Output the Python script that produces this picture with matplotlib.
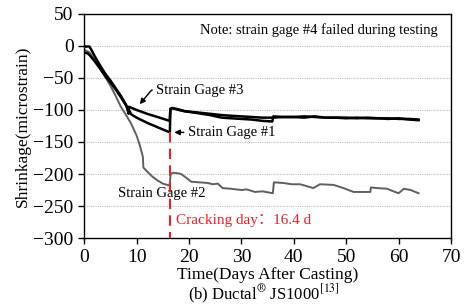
import matplotlib
matplotlib.use("Agg")
import matplotlib.pyplot as plt

# ---- data ----
x1 = [0, 0.5, 1, 2, 3, 4, 5, 6, 7, 8, 8.6, 9, 10, 12, 14, 16.35, 16.45, 16.8, 18, 19.2, 21.7, 24,
      26.2, 28, 30, 32, 34, 35.9, 36.1, 38, 40, 42, 44, 46, 48, 50, 52, 54, 56, 58, 60, 62, 63.8]
y1 = [-11, -11, -14, -24, -35, -47, -57, -68, -80, -93, -101, -107, -112, -120, -127, -135, -100, -97, -100, -102, -105, -108,
      -112, -113, -114, -115, -117, -118, -110, -111, -111, -112, -110, -112, -112, -113, -112, -113, -113, -114, -113, -115, -116]

x3 = [0, 1, 1.5, 2, 3, 4, 5, 6, 7, 8, 8.5, 8.55, 10, 12, 14, 16.3, 16.45, 16.8, 18, 19.2, 21.7, 24,
      26.2, 28, 30, 32, 34, 36, 38, 40, 42, 44, 46, 48, 50, 52, 54, 56, 58, 60, 62, 63.8]
y3 = [-1, -1, -8, -16, -30, -43, -54, -66, -78, -92, -106, -95, -100, -106, -111, -117, -98, -97, -99, -102, -104, -106,
      -108, -109, -110, -111, -112, -112, -111, -111, -110, -111, -112, -112, -112, -113, -112, -113, -113, -114, -114, -115]

x2 = [0, 1, 2, 3, 4, 5, 6, 7, 8, 9, 10, 10.5, 11.2, 11.3, 12, 13, 14, 15, 16.3, 16.5, 17, 18, 18.5, 19.5, 20.4,
      22, 23.6, 24.5, 25.5, 26.4, 28, 30, 31, 32.6, 34, 36, 36.2, 38, 39.6, 41.2, 42.5, 43.7, 45, 47.6, 49.5,
      51.4, 54.6, 54.7, 56, 57.8, 59, 60, 61, 62.3, 63.8]
y2 = [-6, -10, -22, -35, -48, -62, -78, -95, -108, -122, -140, -152, -173, -190, -196, -204, -210, -215, -218, -200, -198, -199, -200, -206, -212,
      -213, -214, -216, -215, -222, -223, -225, -224, -228, -227, -230, -213, -214, -216, -216, -219, -222, -216, -217, -222,
      -228, -228, -221, -222, -223, -227, -230, -223, -225, -230]

crack_day = 16.4
crack_y = -135
yticks = [50, 0, -50, -100, -150, -200, -250, -300]
xticks = [0, 10, 20, 30, 40, 50, 60, 70]

serif = "Liberation Serif"
plt.rcParams["font.family"] = [serif, "DejaVu Sans"]
plt.rcParams["mathtext.fontset"] = "stix"

fig = plt.figure(figsize=(4.65, 3.08), dpi=100)
ax = fig.add_axes([0.181, 0.227, 0.789, 0.728])

for g in [0, -50, -100, -150, -200, -250]:
    ax.axhline(g, color="#bdbdbd", lw=0.8, ls=(0, (1, 1)), zorder=0)

ax.plot(x2, y2, color="#5f5f5f", lw=1.4, zorder=2)
ax.plot(x1, y1, color="black", lw=1.8, zorder=3)
ax.plot(x3, y3, color="black", lw=1.8, zorder=3)

ax.plot([crack_day, crack_day], [crack_y, -300], color="#e8202a", lw=1.5,
        dashes=(5, 3), zorder=4)

ax.set_xlim(0, 70)
ax.set_ylim(-300, 50)
ax.set_xticks(xticks)
ax.set_yticks(yticks)
ax.tick_params(labelsize=14, direction="out", length=4, width=1)
for s in ax.spines.values():
    s.set_linewidth(1.0)

ax.set_xlabel("Time(Days After Casting)", fontsize=12.5, labelpad=1)
ax.set_ylabel("Shrinkage(microstrain)", fontsize=12.5, labelpad=2)

ax.text(67.5, 24, "Note: strain gage #4 failed during testing", fontsize=10.5,
        ha="right", va="center")

ax.annotate("Strain Gage #3", xy=(10.6, -91), xytext=(13.8, -69), fontsize=10.5,
            va="center", ha="left",
            arrowprops=dict(arrowstyle="-|>", color="black", lw=1.0,
                            mutation_scale=8, shrinkA=1, shrinkB=0,
                            connectionstyle="angle,angleA=180,angleB=50,rad=0"))
ax.annotate("Strain Gage #1", xy=(17.2, -135), xytext=(19.8, -135), fontsize=10.5,
            va="center", ha="left",
            arrowprops=dict(arrowstyle="-|>", color="black", lw=1.0,
                            mutation_scale=8, shrinkA=1, shrinkB=0))
ax.text(6.4, -230, "Strain Gage #2", fontsize=10.5, va="center", ha="left")

ax.text(17.5, -272, "Cracking day：16.4 d", fontsize=11, color="#e8202a",
        va="center", ha="left", family=[serif, "Noto Sans CJK SC"])

fig.text(0.567, 0.045, r"(b) Ductal$^{\circledR}$ JS1000$^{[13]}$", fontsize=12,
         ha="center", va="center")

fig.savefig("out.png", dpi=100)
